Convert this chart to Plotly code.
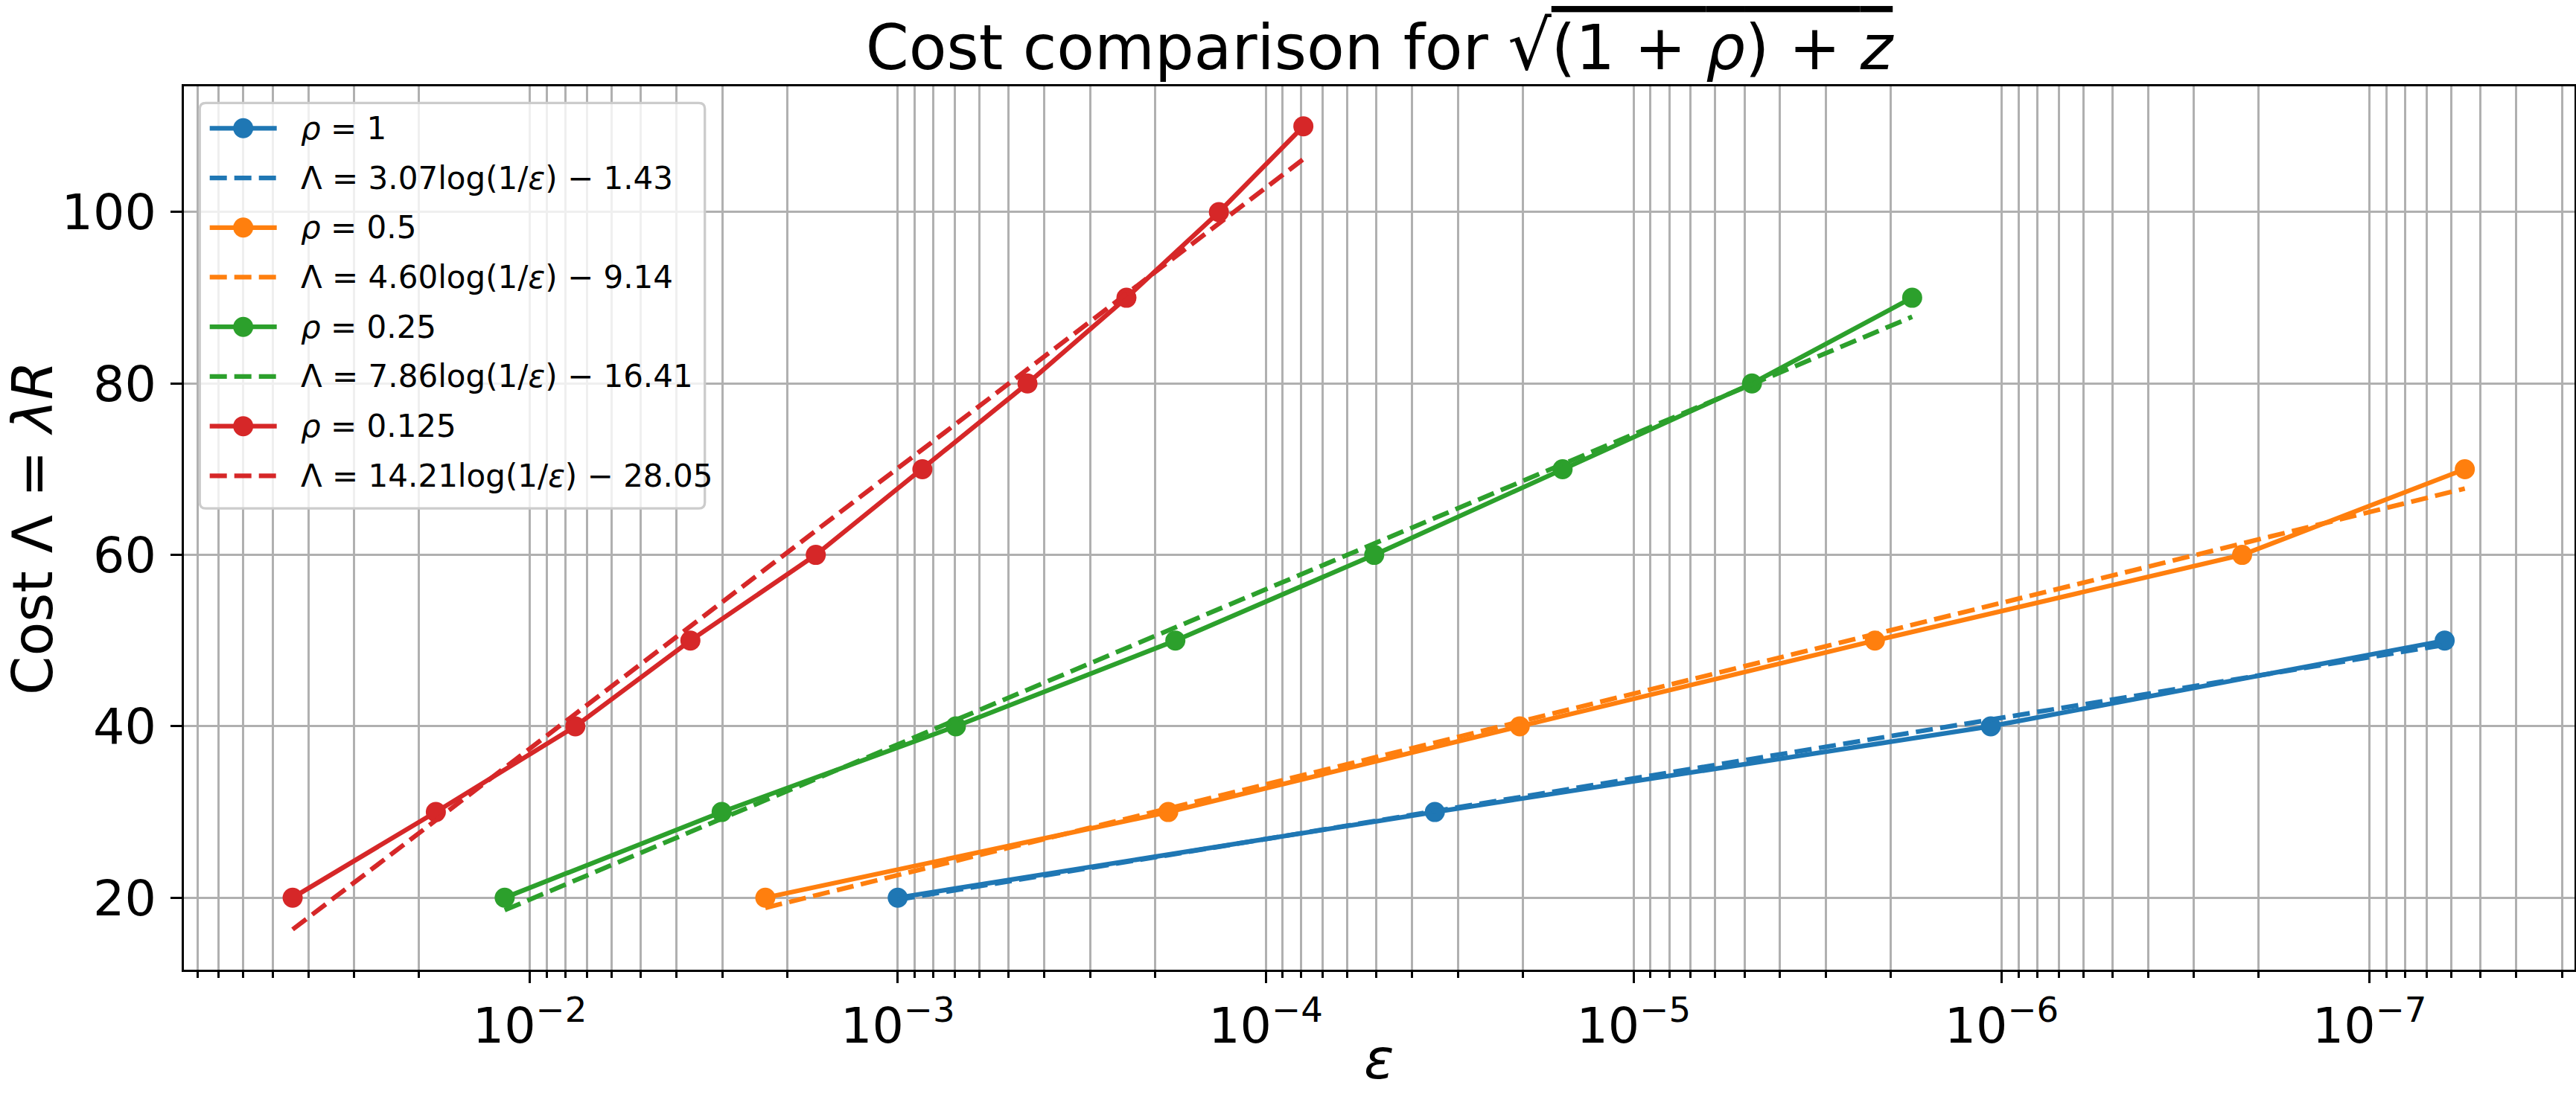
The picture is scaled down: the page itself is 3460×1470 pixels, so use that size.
import plotly.graph_objects as go

# ---------------- data ----------------
cost_rho1 = [20, 30, 40, 50]
eps_rho1 = [1.0e-3, 3.47e-5, 1.07e-6, 6.25e-8]

cost_rho05 = [20, 30, 40, 50, 60, 70]
eps_rho05 = [2.29e-3, 1.84e-4, 2.04e-5, 2.21e-6, 2.22e-7, 5.51e-8]

cost_rho025 = [20, 30, 40, 50, 60, 70, 80, 90]
eps_rho025 = [1.17e-2, 3.01e-3, 6.95e-4, 1.76e-4, 5.07e-5, 1.56e-5, 4.77e-6, 1.75e-6]

cost_rho0125 = [20, 30, 40, 50, 60, 70, 80, 90, 100, 110]
eps_rho0125 = [4.41e-2, 1.80e-2, 7.52e-3, 3.66e-3, 1.67e-3, 8.57e-4, 4.44e-4, 2.39e-4, 1.34e-4, 7.9e-5]

# fitted-line values at the first and last epsilon of each series
fit_rho1 = [19.78, 49.50]
fit_rho05 = [18.82, 67.74]
fit_rho025 = [18.55, 87.78]
fit_rho0125 = [16.30, 106.18]

series_labels = ["<i>ρ</i> = 1", "<i>ρ</i> = 0.5", "<i>ρ</i> = 0.25", "<i>ρ</i> = 0.125"]
fit_labels = [
    "Λ = 3.07log(1/<i>ε</i>) − 1.43",
    "Λ = 4.60log(1/<i>ε</i>) − 9.14",
    "Λ = 7.86log(1/<i>ε</i>) − 16.41",
    "Λ = 14.21log(1/<i>ε</i>) − 28.05",
]

x_tick_vals = [1e-2, 1e-3, 1e-4, 1e-5, 1e-6, 1e-7]
x_tick_text = ["10<sup>−2</sup>", "10<sup>−3</sup>", "10<sup>−4</sup>",
               "10<sup>−5</sup>", "10<sup>−6</sup>", "10<sup>−7</sup>"]
y_tick_vals = [20, 40, 60, 80, 100]

colors = ["#1f77b4", "#ff7f0e", "#2ca02c", "#d62728"]

# ---------------- layout constants ----------------
W, H = 3460, 1470
L, R, T, B = 247, 3458, 116, 1302.6
FONT = "DejaVu Sans"
LW = 6.25
DASH = "23px,10px"


def xp(px):
    return (px - L) / (R - L)


def yp(py):
    return (B - py) / (B - T)


fig = go.Figure()

data = [
    (eps_rho1, cost_rho1, fit_rho1),
    (eps_rho05, cost_rho05, fit_rho05),
    (eps_rho025, cost_rho025, fit_rho025),
    (eps_rho0125, cost_rho0125, fit_rho0125),
]

for i, (eps, cost, fit) in enumerate(data):
    fig.add_trace(go.Scatter(
        x=eps, y=cost, mode="lines+markers", name=series_labels[i],
        line=dict(color=colors[i], width=LW),
        marker=dict(color=colors[i], size=27, line=dict(width=0)),
    ))
    fig.add_trace(go.Scatter(
        x=[eps[0], eps[-1]], y=fit, mode="lines", name=fit_labels[i],
        line=dict(color=colors[i], width=LW, dash=DASH),
    ))

# minor log ticks 2..9 x 10^k
minor_vals = []
for k in range(-8, 0):
    for m in range(2, 10):
        v = m * 10 ** k
        if 10 ** -7.557 <= v <= 10 ** -1.06:
            minor_vals.append(v)

axis_common = dict(
    showline=True, linecolor="black", linewidth=3.3, mirror=True,
    ticks="outside", ticklen=14.6, tickwidth=3.3, tickcolor="black",
    showgrid=True, gridcolor="#b0b0b0", gridwidth=3.3, zeroline=False,
    tickfont=dict(family=FONT, size=66.7, color="black"),
    automargin=False,
)

fig.update_xaxes(
    type="log", range=[-1.06, -7.557],
    tickmode="array", tickvals=x_tick_vals, ticktext=x_tick_text,
    minor=dict(tickmode="array", tickvals=minor_vals, ticks="outside",
               ticklen=8.3, tickwidth=2.5, tickcolor="black",
               showgrid=True, gridcolor="#b0b0b0", gridwidth=3.3),
    **axis_common,
)
fig.update_yaxes(
    range=[11.6, 114.67], tickmode="array", tickvals=y_tick_vals,
    ticklabelstandoff=6,
    title=dict(text="Cost Λ = <i>λR</i>", font=dict(family=FONT, size=75, color="black"), standoff=30),
    **axis_common,
)

# ---------------- custom legend (matplotlib style) ----------------
shapes = []
lx0, ly0, lx1, ly1, rad = 268.3, 138.3, 946.7, 683.0, 8
pts = [
    ("M", lx0 + rad, ly0), ("L", lx1 - rad, ly0), ("Q", lx1, ly0, lx1, ly0 + rad),
    ("L", lx1, ly1 - rad), ("Q", lx1, ly1, lx1 - rad, ly1),
    ("L", lx0 + rad, ly1), ("Q", lx0, ly1, lx0, ly1 - rad),
    ("L", lx0, ly0 + rad), ("Q", lx0, ly0, lx0 + rad, ly0),
]
path = ""
for p in pts:
    cmd = p[0]
    coords = p[1:]
    seg = []
    for j in range(0, len(coords), 2):
        seg.append(f"{xp(coords[j]):.6f},{yp(coords[j+1]):.6f}")
    path += cmd + " ".join(seg) + " "
path += "Z"
shapes.append(dict(type="path", path=path, xref="paper", yref="paper",
                   fillcolor="rgba(255,255,255,0.8)",
                   line=dict(color="#cccccc", width=3.3), layer="above"))

annotations = []
row0, row_step = 172.3, 66.7
hx0, hx1, hxc, tx = 281.7, 371.7, 326.7, 401.7
msz = 13.5
for i in range(4):
    for j in range(2):
        ry = row0 + (2 * i + j) * row_step
        shapes.append(dict(type="line", xref="paper", yref="paper",
                           x0=xp(hx0), x1=xp(hx1), y0=yp(ry), y1=yp(ry),
                           line=dict(color=colors[i], width=LW,
                                     dash=DASH if j == 1 else "solid"),
                           layer="above"))
        if j == 0:
            shapes.append(dict(type="circle", xref="paper", yref="paper",
                               x0=xp(hxc - msz), x1=xp(hxc + msz),
                               y0=yp(ry + msz), y1=yp(ry - msz),
                               fillcolor=colors[i], line=dict(width=0),
                               layer="above"))
        annotations.append(dict(
            text=series_labels[i] if j == 0 else fit_labels[i],
            xref="paper", yref="paper", x=xp(tx), y=yp(ry),
            xanchor="left", yanchor="middle", showarrow=False,
            font=dict(family=FONT, size=42, color="black"),
        ))

# x-axis label (kept fully inside the canvas)
annotations.append(dict(
    text="<i>ε</i>", xref="paper", yref="paper", x=0.5, y=yp(1469),
    xanchor="center", yanchor="bottom", showarrow=False,
    font=dict(family=FONT, size=75, color="black"),
))

fig.update_layout(
    width=W, height=H,
    margin=dict(l=L, r=W - R, t=T, b=H - B),
    plot_bgcolor="white", paper_bgcolor="white",
    showlegend=False,
    font=dict(family=FONT, color="black"),
    title=dict(
        text="Cost comparison for <span style='font-size:92px'>√</span><span style='text-decoration:overline'>(1 + <i>ρ</i>) + <i>z</i></span>",
        font=dict(family=FONT, size=83, color="black"),
        x=xp((L + R) / 2), xref="paper", xanchor="center",
        y=1 - 64 / H, yref="container", yanchor="middle",
    ),
    shapes=shapes,
    annotations=annotations,
)

fig.write_html("out.html")
